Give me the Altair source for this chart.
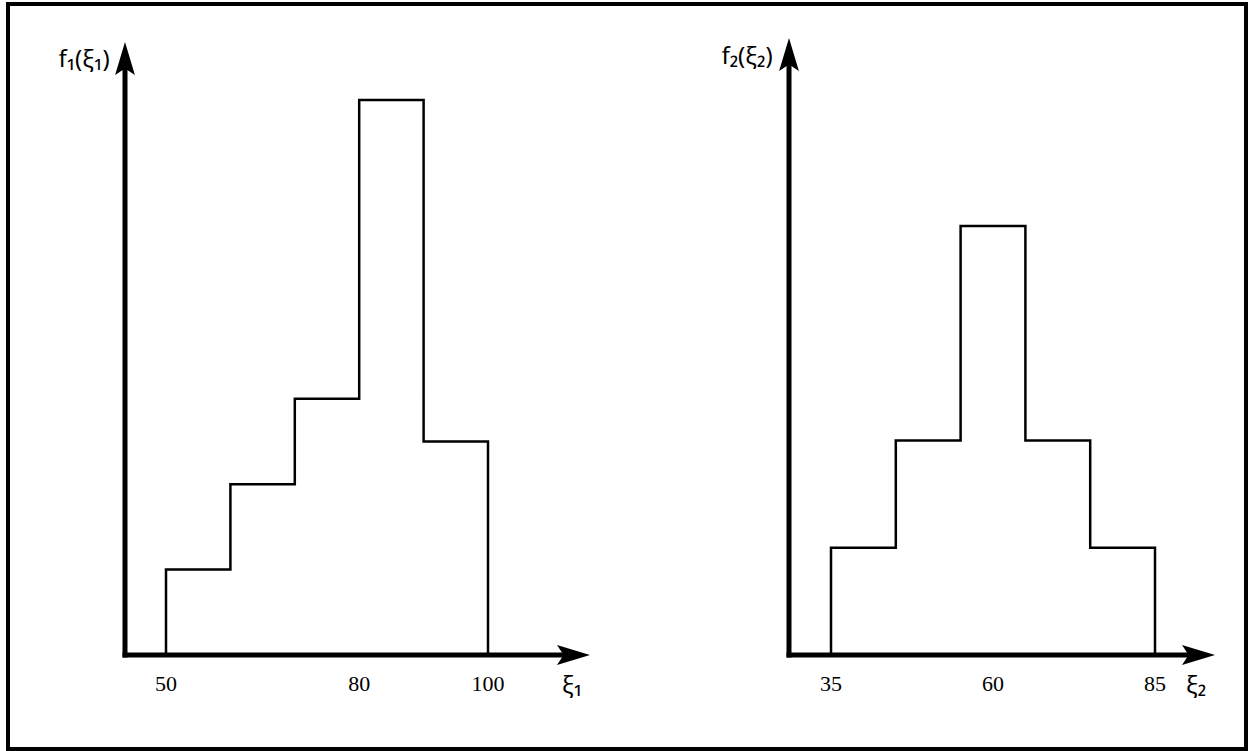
import altair as alt
import pandas as pd

# ---- data ----
# left panel: f1(xi1)
edges1 = [50, 60, 70, 80, 90, 100]
heights1 = [1, 2, 3, 6.5, 2.5]
ticks1 = [50, 80, 100]
# right panel: f2(xi2)
edges2 = [35, 45, 55, 65, 75, 85]
heights2 = [1, 2, 4, 2, 1]
ticks2 = [35, 60, 85]

W, H = 1248, 751
SANS = "Noto Sans, DejaVu Sans, sans-serif"
SERIF = "Liberation Serif, DejaVu Serif, serif"
ARROW_R = "M0,0 L-1,-0.3 L-0.8,0 L-1,0.3 Z"
ARROW_U = "M0,0 L-0.3,1 L0,0.8 L0.3,1 Z"
ONE = alt.Data(values=[{"a": 1}])


def step_df(edges, heights):
    xs = [edges[0]] + edges[:-1] + [edges[-1]]
    ys = [0] + list(heights) + [0]
    return pd.DataFrame({"x": xs, "y": ys, "i": list(range(len(xs)))})


def panel(edges, heights, ticks, xrange, yrange, ax_x, ax_x_end, ax_y_top,
          base_y, xlabel, xlabel_x, ylabel, ylabel_x, ylabel_y):
    xs = alt.Scale(domain=[edges[0], edges[-1]], range=xrange, nice=False, zero=False)
    ys = alt.Scale(domain=[0, max(heights)], range=yrange, nice=False, zero=False)

    hist = alt.Chart(step_df(edges, heights)).mark_line(
        interpolate="step-after", color="black", strokeWidth=2.5
    ).encode(
        x=alt.X("x:Q", scale=xs, axis=None),
        y=alt.Y("y:Q", scale=ys, axis=None),
        order=alt.Order("i:Q"),
    )
    tick_text = alt.Chart(pd.DataFrame({"v": ticks})).mark_text(
        font=SERIF, fontSize=22, color="black", baseline="middle", align="center"
    ).encode(
        x=alt.X("v:Q", scale=xs, axis=None),
        y=alt.value(base_y + 29),
        text=alt.Text("v:Q"),
    )
    # axes (decoration)
    xaxis = alt.Chart(ONE).mark_rule(color="black", strokeWidth=5, strokeCap="butt").encode(
        x=alt.value(ax_x - 2.5), x2=alt.value(ax_x_end - 20), y=alt.value(base_y)
    )
    yaxis = alt.Chart(ONE).mark_rule(color="black", strokeWidth=5, strokeCap="butt").encode(
        x=alt.value(ax_x), y=alt.value(base_y + 2.5), y2=alt.value(ax_y_top + 20)
    )
    arr_x = alt.Chart(ONE).mark_point(filled=True, color="black", opacity=1, strokeWidth=0).encode(
        x=alt.value(ax_x_end), y=alt.value(base_y),
        shape=alt.value(ARROW_R), size=alt.value(4356)
    )
    arr_y = alt.Chart(ONE).mark_point(filled=True, color="black", opacity=1, strokeWidth=0).encode(
        x=alt.value(ax_x), y=alt.value(ax_y_top),
        shape=alt.value(ARROW_U), size=alt.value(4356)
    )
    xl = alt.Chart(ONE).mark_text(
        font=SANS, fontSize=24, color="black", baseline="middle", align="center"
    ).encode(x=alt.value(xlabel_x), y=alt.value(base_y + 31), text=alt.value(xlabel))
    yl = alt.Chart(ONE).mark_text(
        font=SANS, fontSize=24, color="black", baseline="middle", align="center"
    ).encode(x=alt.value(ylabel_x), y=alt.value(ylabel_y), text=alt.value(ylabel))

    return alt.layer(hist, tick_text, xaxis, yaxis, arr_x, arr_y, xl, yl)


left = panel(edges1, heights1, ticks1, [166, 488], [655, 100],
             ax_x=125, ax_x_end=590, ax_y_top=42, base_y=655,
             xlabel="ξ₁", xlabel_x=572, ylabel="f₁(ξ₁)", ylabel_x=84, ylabel_y=60)
right = panel(edges2, heights2, ticks2, [831, 1155], [655, 226],
              ax_x=789, ax_x_end=1215, ax_y_top=38, base_y=655,
              xlabel="ξ₂", xlabel_x=1196, ylabel="f₂(ξ₂)", ylabel_x=747, ylabel_y=57)

frame = alt.Chart(ONE).mark_rect(fillOpacity=0, stroke="black", strokeWidth=4).encode(
    x=alt.value(8), x2=alt.value(1246), y=alt.value(4), y2=alt.value(749)
)

chart = alt.layer(left, right, frame).resolve_scale(
    x="independent", y="independent"
).properties(
    width=W, height=H, autosize="none", padding=0, background="white"
).configure_view(strokeWidth=0)

chart.save("out.html", embed_options={"renderer": "svg", "actions": False})
